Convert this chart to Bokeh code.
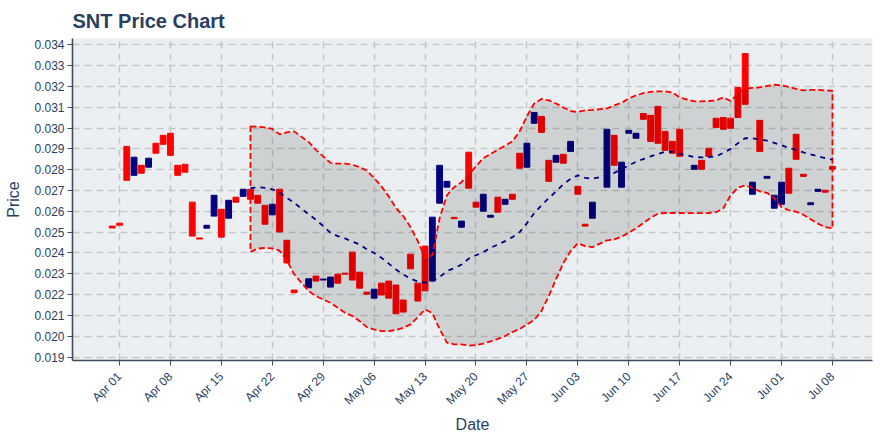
import pandas as pd
from bokeh.plotting import figure
from bokeh.models import Range1d, FixedTicker, DatetimeTickFormatter, PrintfTickFormatter, ColumnDataSource
from bokeh.embed import file_html
from bokeh.resources import INLINE

YEAR = 2023

# ---------------- data ----------------
candle_dates = [
    "03-31", "04-01", "04-02", "04-03", "04-04", "04-05", "04-06", "04-07", "04-08", "04-09",
    "04-10", "04-11", "04-12", "04-13", "04-14", "04-15", "04-16", "04-17", "04-18", "04-19",
    "04-20", "04-21", "04-22", "04-23", "04-24", "04-25", "04-27", "04-28", "04-29", "04-30",
    "05-01", "05-02", "05-03", "05-04", "05-05", "05-06", "05-07", "05-08", "05-09", "05-10",
    "05-11", "05-12", "05-13", "05-14", "05-15", "05-16", "05-17", "05-18", "05-19", "05-20",
    "05-21", "05-22", "05-23", "05-24", "05-25", "05-26", "05-27", "05-28", "05-29", "05-30",
    "05-31", "06-01", "06-02", "06-03", "06-04", "06-05", "06-07", "06-08", "06-09", "06-10",
    "06-11", "06-12", "06-13", "06-14", "06-15", "06-16", "06-17", "06-19", "06-20", "06-21",
    "06-22", "06-23", "06-24", "06-25", "06-26", "06-27", "06-28", "06-29", "06-30", "07-01",
    "07-02", "07-03", "07-04", "07-05", "07-06", "07-07", "07-08",
]
opens = [
    0.02529, 0.02543, 0.02912, 0.02773, 0.02821, 0.02812, 0.02927, 0.02965, 0.02975, 0.02821,
    0.02826, 0.02644, 0.02472, 0.02519, 0.02577, 0.02610, 0.02567, 0.02668, 0.02672, 0.02706,
    0.02677, 0.02629, 0.02583, 0.02706, 0.02461, 0.02222, 0.02233, 0.02289, 0.02270, 0.02236,
    0.02298, 0.02303, 0.02404, 0.02308, 0.02212, 0.02183, 0.02255, 0.02265, 0.02246, 0.02174,
    0.02394, 0.02255, 0.02433, 0.02265, 0.02639, 0.02716, 0.02571, 0.02524, 0.02884, 0.02644,
    0.02601, 0.02572, 0.02668, 0.02634, 0.02682, 0.02879, 0.02812, 0.03023, 0.03056, 0.02845,
    0.02836, 0.02874, 0.02888, 0.02720, 0.02538, 0.02567, 0.02716, 0.02965, 0.02716, 0.02975,
    0.02951, 0.03070, 0.03061, 0.03104, 0.02984, 0.02936, 0.02994, 0.02802, 0.02845, 0.02903,
    0.03047, 0.03051, 0.03047, 0.03195, 0.03358, 0.02682, 0.03037, 0.02759, 0.02615, 0.02634,
    0.02807, 0.02970, 0.02778, 0.02632, 0.02696, 0.02701, 0.02816,
]
closes = [
    0.02520, 0.02533, 0.02749, 0.02860, 0.02783, 0.02855, 0.02879, 0.02922, 0.02869, 0.02773,
    0.02788, 0.02481, 0.02467, 0.02533, 0.02677, 0.02476, 0.02653, 0.02644, 0.02706, 0.02658,
    0.02639, 0.02538, 0.02634, 0.02501, 0.02352, 0.02209, 0.02276, 0.02265, 0.02275, 0.02284,
    0.02255, 0.02298, 0.02270, 0.02231, 0.02202, 0.02226, 0.02198, 0.02183, 0.02108, 0.02116,
    0.02324, 0.02169, 0.02218, 0.02572, 0.02821, 0.02744, 0.02565, 0.02553, 0.02711, 0.02620,
    0.02682, 0.02581, 0.02596, 0.02658, 0.02658, 0.02807, 0.02927, 0.03075, 0.02979, 0.02744,
    0.02869, 0.02831, 0.02936, 0.02682, 0.02529, 0.02644, 0.02994, 0.02821, 0.02836, 0.02989,
    0.02975, 0.03042, 0.02936, 0.02927, 0.02893, 0.02879, 0.02864, 0.02821, 0.02802, 0.02864,
    0.03003, 0.02994, 0.02999, 0.03051, 0.03114, 0.02740, 0.02888, 0.02768, 0.02677, 0.02740,
    0.02687, 0.02850, 0.02768, 0.02641, 0.02706, 0.02692, 0.02802,
]

band_dates = [
    "04-19", "04-20", "04-21", "04-22", "04-23", "04-24", "04-25", "04-27", "04-28", "04-29",
    "04-30", "05-01", "05-02", "05-03", "05-04", "05-05", "05-06", "05-07", "05-08", "05-09",
    "05-10", "05-11", "05-12", "05-13", "05-14", "05-15", "05-16", "05-17", "05-18", "05-19",
    "05-20", "05-21", "05-22", "05-23", "05-24", "05-25", "05-26", "05-27", "05-28", "05-29",
    "05-30", "05-31", "06-01", "06-02", "06-03", "06-04", "06-05", "06-07", "06-08", "06-09",
    "06-10", "06-11", "06-12", "06-13", "06-14", "06-15", "06-16", "06-17", "06-19", "06-20",
    "06-21", "06-22", "06-23", "06-24", "06-25", "06-26", "06-27", "06-28", "06-29", "06-30",
    "07-01", "07-02", "07-03", "07-04", "07-05", "07-06", "07-07", "07-08",
]
upper_band = [
    0.03008, 0.03007, 0.03003, 0.02996, 0.02970, 0.02979, 0.02984, 0.02933, 0.02895, 0.02864,
    0.02833, 0.02829, 0.02829, 0.02824, 0.02812, 0.02796, 0.02760, 0.02720, 0.02672, 0.02616,
    0.02577, 0.02524, 0.02457, 0.02375, 0.02389, 0.02567, 0.02677, 0.02716, 0.02740, 0.02777,
    0.02816, 0.02855, 0.02876, 0.02896, 0.02915, 0.02936, 0.02984, 0.03056, 0.03118, 0.03140,
    0.03133, 0.03118, 0.03099, 0.03082, 0.03077, 0.03085, 0.03087, 0.03094, 0.03109, 0.03121,
    0.03142, 0.03157, 0.03168, 0.03174, 0.03176, 0.03176, 0.03171, 0.03147, 0.03128, 0.03128,
    0.03130, 0.03133, 0.03147, 0.03130, 0.03166, 0.03190, 0.03193, 0.03195, 0.03202, 0.03208,
    0.03205, 0.03198, 0.03188, 0.03181, 0.03183, 0.03184, 0.03181, 0.03179,
]
middle_band = [
    0.02711, 0.02716, 0.02713, 0.02706, 0.02689, 0.02665, 0.02641, 0.02586, 0.02560, 0.02529,
    0.02497, 0.02481, 0.02470, 0.02454, 0.02441, 0.02418, 0.02400, 0.02377, 0.02349, 0.02321,
    0.02297, 0.02277, 0.02262, 0.02257, 0.02265, 0.02284, 0.02313, 0.02327, 0.02344, 0.02373,
    0.02389, 0.02404, 0.02425, 0.02440, 0.02457, 0.02476, 0.02500, 0.02543, 0.02591, 0.02629,
    0.02663, 0.02696, 0.02730, 0.02756, 0.02773, 0.02761, 0.02756, 0.02773, 0.02785, 0.02802,
    0.02821, 0.02838, 0.02851, 0.02864, 0.02876, 0.02886, 0.02886, 0.02876, 0.02861, 0.02859,
    0.02861, 0.02864, 0.02881, 0.02900, 0.02927, 0.02951, 0.02951, 0.02946, 0.02940, 0.02929,
    0.02917, 0.02905, 0.02895, 0.02883, 0.02874, 0.02864, 0.02855, 0.02848,
]
lower_band = [
    0.02405, 0.02421, 0.02424, 0.02422, 0.02411, 0.02365, 0.02298, 0.02217, 0.02193, 0.02177,
    0.02161, 0.02137, 0.02113, 0.02097, 0.02073, 0.02044, 0.02033, 0.02025, 0.02025, 0.02030,
    0.02041, 0.02057, 0.02092, 0.02129, 0.02111, 0.02035, 0.01969, 0.01961, 0.01961, 0.01955,
    0.01958, 0.01965, 0.01975, 0.01987, 0.02001, 0.02020, 0.02035, 0.02057, 0.02078, 0.02121,
    0.02193, 0.02274, 0.02351, 0.02409, 0.02447, 0.02433, 0.02428, 0.02461, 0.02465, 0.02478,
    0.02497, 0.02519, 0.02543, 0.02569, 0.02589, 0.02592, 0.02592, 0.02592, 0.02591, 0.02591,
    0.02592, 0.02596, 0.02615, 0.02677, 0.02713, 0.02725, 0.02712, 0.02696, 0.02689, 0.02663,
    0.02620, 0.02605, 0.02598, 0.02584, 0.02562, 0.02541, 0.02524, 0.02518,
]

x_tick_labels = ["Apr 01", "Apr 08", "Apr 15", "Apr 22", "Apr 29", "May 06", "May 13",
                 "May 20", "May 27", "Jun 03", "Jun 10", "Jun 17", "Jun 24", "Jul 01", "Jul 08"]
y_ticks = [0.019, 0.020, 0.021, 0.022, 0.023, 0.024, 0.025, 0.026, 0.027, 0.028,
           0.029, 0.030, 0.031, 0.032, 0.033, 0.034]

# ---------------- build ----------------
def to_dt(md):
    return pd.Timestamp(f"{YEAR}-{md}")

cdates = [to_dt(d) for d in candle_dates]
bdates = [to_dt(d) for d in band_dates]
xticks = [pd.Timestamp(f"{lbl} {YEAR}") for lbl in x_tick_labels]
xticks_ms = [t.value / 1e6 for t in xticks]

RED = "#ff0000"
NAVY = "#000080"
TXT = "#2a3f5f"
FONT = "Liberation Sans"

src = ColumnDataSource(dict(
    x=cdates,
    top=[max(o, c) for o, c in zip(opens, closes)],
    bottom=[min(o, c) for o, c in zip(opens, closes)],
    color=[RED if c < o else NAVY for o, c in zip(opens, closes)],
))

x0 = pd.Timestamp(f"{YEAR}-04-01") - pd.Timedelta(days=6.46)
x1 = pd.Timestamp(f"{YEAR}-04-01") + pd.Timedelta(days=103.5)

p = figure(width=880, height=440, x_axis_type="datetime",
           x_range=Range1d(x0, x1), y_range=Range1d(0.018835, 0.034302),
           output_backend="svg", toolbar_location=None,
           min_border_left=72, min_border_right=8, min_border_top=37, min_border_bottom=80)

p.title.text = "SNT Price Chart"
p.title.text_font = FONT
p.title.text_font_size = "20px"
p.title.text_font_style = "bold"
p.title.text_color = TXT
p.title.align = "left"
p.title.standoff = 14

p.background_fill_color = "#eceff1"
p.border_fill_color = "white"
p.outline_line_color = None

day_ms = 86400000
p.vbar(x="x", top="top", bottom="bottom", width=0.8 * day_ms, fill_color="color",
       line_color="color", line_width=1, source=src)

band_x = bdates + bdates[::-1]
band_y = upper_band + lower_band[::-1]
p.patch(band_x, band_y, fill_color="black", fill_alpha=0.12,
        line_color=RED, line_dash="6 3", line_width=1.8)
p.line(bdates, middle_band, line_color=NAVY, line_dash="5 5", line_width=1.8)

# axes
p.xaxis.ticker = FixedTicker(ticks=xticks_ms)
p.xaxis.formatter = DatetimeTickFormatter(days="%b %d", months="%b %d", hours="%b %d",
                                          years="%b %d")
p.xaxis.major_label_orientation = 0.785398
p.yaxis.ticker = FixedTicker(ticks=y_ticks)
p.yaxis.formatter = PrintfTickFormatter(format="%.3f")

for ax in (p.xaxis[0], p.yaxis[0]):
    ax.axis_line_color = "#3c4d62"
    ax.axis_line_width = 1.6
    ax.major_tick_line_color = "#3c4d62"
    ax.major_tick_out = 5
    ax.major_tick_in = 0
    ax.minor_tick_line_color = None
    ax.major_label_text_font = FONT
    ax.major_label_text_font_size = "12px"
    ax.major_label_text_color = TXT
    ax.axis_label_text_font = FONT
    ax.axis_label_text_font_size = "16px"
    ax.axis_label_text_font_style = "normal"
    ax.axis_label_text_color = TXT

p.xaxis.axis_label = "Date"
p.yaxis.axis_label = "Price"
p.yaxis.major_label_standoff = 3
p.yaxis.axis_label_standoff = 9
p.xaxis.major_label_standoff = 9
p.xaxis.axis_label_standoff = 1

p.xgrid.ticker = FixedTicker(ticks=xticks_ms)
p.ygrid.ticker = FixedTicker(ticks=y_ticks)
for g in (p.xgrid[0], p.ygrid[0]):
    g.grid_line_color = "#c5c8ca"
    g.grid_line_dash = "7 5"
    g.grid_line_width = 1.5

open("out.html", "w").write(file_html(p, INLINE))
